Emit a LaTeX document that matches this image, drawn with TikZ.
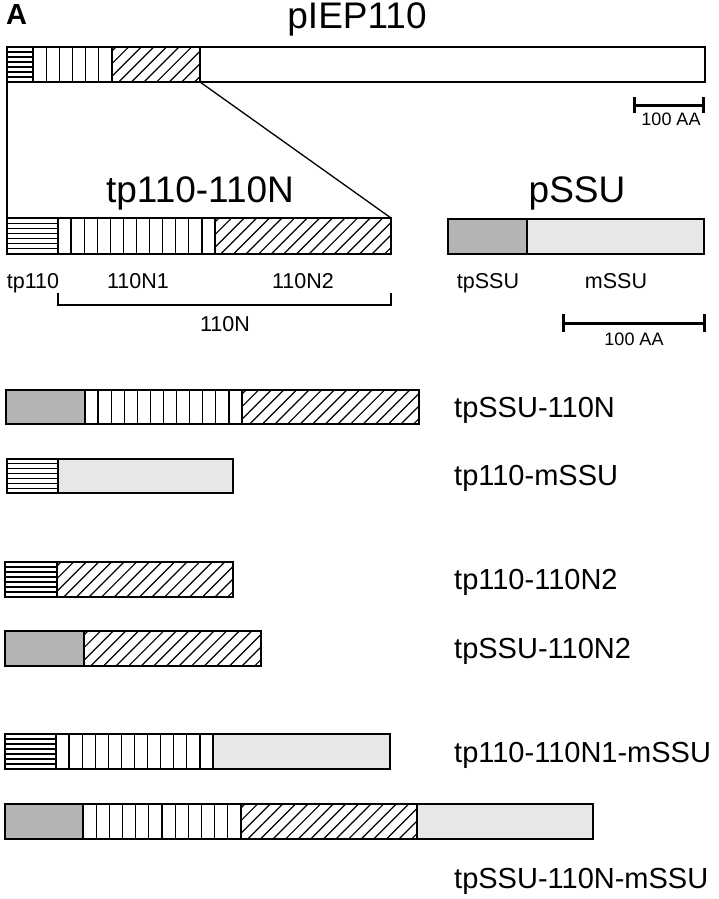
\documentclass[tikz,border=0pt]{standalone}
\usepackage{fontspec}
\setmainfont{Liberation Sans}
\definecolor{tpgray}{HTML}{B4B4B4}
\definecolor{mgray}{HTML}{E7E7E7}
\tikzset{
  barline/.style={line width=1.8pt, draw=black},
  stripeline/.style={line width=1.2pt, draw=black},
  hatchline/.style={line width=1.2pt, draw=black},
  scaleline/.style={line width=3pt, draw=black},
  thinline/.style={line width=1.3pt, draw=black},
  title/.style={inner sep=0pt, anchor=base, font=\fontsize{37}{42}\selectfont},
  conlabel/.style={inner sep=0pt, anchor=base west, font=\fontsize{29}{34}\selectfont},
  seglabel/.style={inner sep=0pt, anchor=base, font=\fontsize{21.5}{25}\selectfont},
  scalelabel/.style={inner sep=0pt, anchor=base, font=\fontsize{18}{22}\selectfont},
}
% horizontal stripes segment: x1 x2 ytop ybot
\newcommand\hseg[4]{%
  \fill[white] (#1,#3) rectangle (#2,#4);
  \foreach \k in {1,...,6} \draw[stripeline] (#1,{#3+\k*(#4-#3)/7}) -- (#2,{#3+\k*(#4-#3)/7});
  \draw[barline] (#1,#3) rectangle (#2,#4);}
% vertical stripes segment: x1 x2 ytop ybot n
\newcommand\vseg[5]{%
  \fill[white] (#1,#3) rectangle (#2,#4);
  \pgfmathtruncatemacro\nm{#5-1}
  \foreach \k in {1,...,\nm} \draw[stripeline] ({#1+\k*(#2-#1)/#5},#3) -- ({#1+\k*(#2-#1)/#5},#4);
  \draw[barline] (#1,#3) rectangle (#2,#4);}
% hatched segment: x1 x2 ytop ybot
\newcommand\hatseg[4]{%
  \fill[white] (#1,#3) rectangle (#2,#4);
  \begin{scope}
    \clip (#1,#3) rectangle (#2,#4);
    \pgfmathsetmacro\hh{#4-#3}
    \pgfmathsetmacro\xs{#1-\hh+4}
    \pgfmathsetmacro\xn{\xs+12.6}
    \foreach \xx in {\xs,\xn,...,#2} \draw[hatchline] (\xx,#4) -- ++(\hh,-\hh);
  \end{scope}
  \draw[barline] (#1,#3) rectangle (#2,#4);}
% filled segment: x1 x2 ytop ybot colour
\newcommand\fseg[5]{%
  \draw[barline, fill=#5] (#1,#3) rectangle (#2,#4);}
\begin{document}
\begin{tikzpicture}[x=1pt,y=-1pt]
\useasboundingbox (0,0) rectangle (718,899);
\fill[white] (0,0) rectangle (718,899);

% panel letter and titles
\node[inner sep=0pt, anchor=base west, font=\fontsize{29}{32}\selectfont\bfseries] (A) at (6,25) {A};
\node[title] (tpiep) at (357,29) {pIEP110};
\node[title] (ttp) at (200,202) {tp110-110N};
\node[title] (tssu) at (577,202) {pSSU};

% pIEP110 bar
\hseg{7}{33}{47}{82}
\vseg{33}{112}{47}{82}{6}
\hatseg{112}{200}{47}{82}
\fseg{200}{705}{47}{82}{white}
\draw[barline] (7,47) rectangle (705,82);

% zoom connectors
\coordinate (pL) at (7,82);
\coordinate (pR) at (200,82);
\coordinate (nL) at (7,218);
\coordinate (nR) at (391,218);
\draw[thinline] (pL) -- (nL);
\draw[thinline] (pR) -- (nR);

% scale bar 1
\coordinate (s1a) at (634,105);
\coordinate (s1b) at (703,105);
\draw[scaleline] (s1a) -- (s1b);
\draw[scaleline] (634,97) -- (634,113);
\draw[scaleline] (703,97) -- (703,113);
\node[scalelabel] (sl1) at (671,125) {100 AA};

% tp110-110N bar
\hseg{7}{58}{218}{254}
\vseg{58}{215}{218}{254}{12}
\hatseg{215}{391}{218}{254}
\node[seglabel] (l1) at (33,288) {tp110};
\node[seglabel] (l2) at (138,288) {110N1};
\node[seglabel] (l3) at (303,288) {110N2};
\coordinate (b1) at (58,293);
\coordinate (b2) at (58,305);
\coordinate (b3) at (391,305);
\coordinate (b4) at (391,293);
\draw[thinline] (b1) -- (b2) -- (b3) -- (b4);
\node[seglabel] (l4) at (225,331) {110N};

% pSSU bar
\fseg{448}{527}{219}{254}{tpgray}
\fseg{527}{704}{219}{254}{mgray}
\node[seglabel] (l5) at (488,288) {tpSSU};
\node[seglabel] (l6) at (616,288) {mSSU};

% scale bar 2
\coordinate (s2a) at (563,323);
\coordinate (s2b) at (704,323);
\draw[scaleline] (s2a) -- (s2b);
\draw[scaleline] (563,314) -- (563,332);
\draw[scaleline] (704,314) -- (704,332);
\node[scalelabel] (sl2) at (634,345) {100 AA};

% tpSSU-110N
\fseg{6}{85}{390}{424}{tpgray}
\vseg{85}{242}{390}{424}{12}
\hatseg{242}{419}{390}{424}
\node[conlabel] (c1) at (454,417) {tpSSU-110N};

% tp110-mSSU
\hseg{7}{58}{459}{493}
\fseg{58}{233}{459}{493}{mgray}
\node[conlabel] (c2) at (454,485) {tp110-mSSU};

% tp110-110N2
\hseg{5}{57}{562}{597}
\hatseg{57}{233}{562}{597}
\node[conlabel] (c3) at (454,589) {tp110-110N2};

% tpSSU-110N2
\fseg{5}{84}{631}{666}{tpgray}
\hatseg{84}{261}{631}{666}
\node[conlabel] (c4) at (454,658) {tpSSU-110N2};

% tp110-110N1-mSSU
\hseg{5}{56}{734}{769}
\vseg{56}{213}{734}{769}{12}
\fseg{213}{390}{734}{769}{mgray}
\node[conlabel] (c5) at (454,762) {tp110-110N1-mSSU};

% tpSSU-110N-mSSU
\fseg{5}{83}{804}{839}{tpgray}
\vseg{83}{241}{804}{839}{12}
\hatseg{241}{417}{804}{839}
\fseg{417}{593}{804}{839}{mgray}
\node[conlabel] (c6) at (454,888) {tpSSU-110N-mSSU};
\end{tikzpicture}
\end{document}
